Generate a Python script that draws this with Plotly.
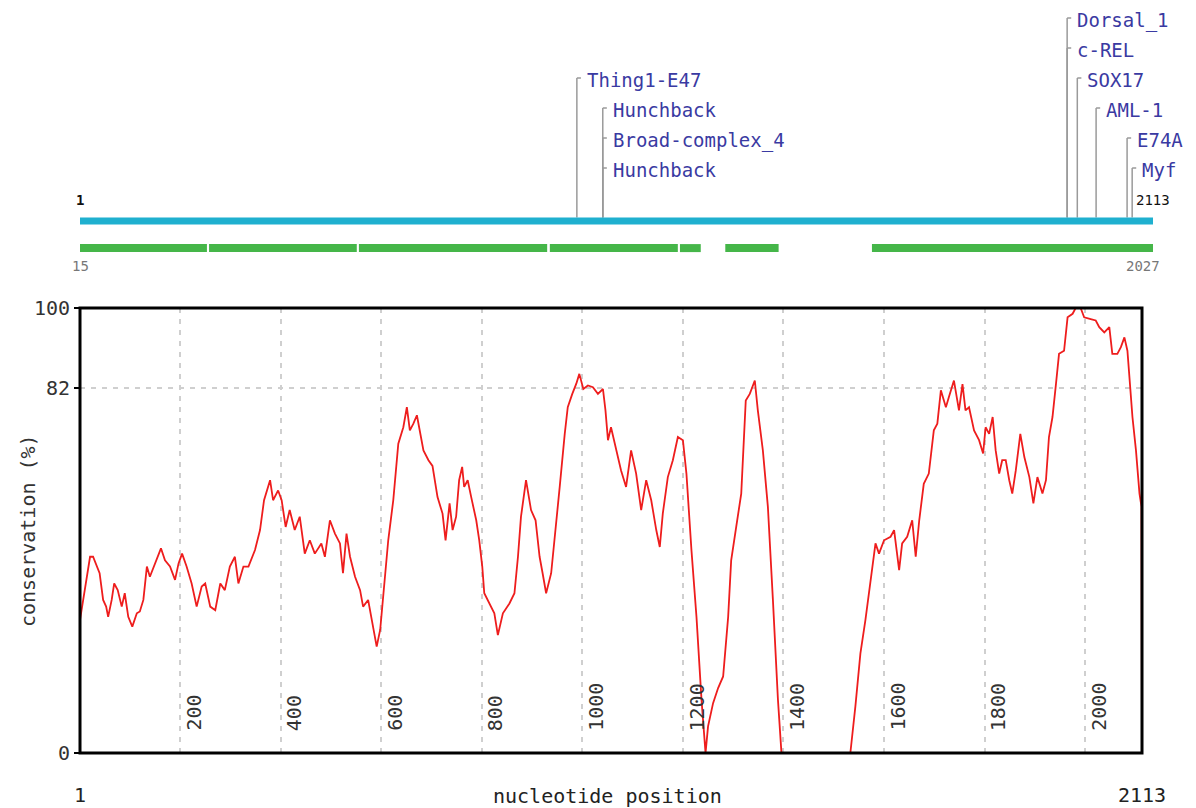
import plotly.graph_objects as go

W, H = 1196, 808
OFF = 8  # page body margin of the html page

# ---------------- data ----------------
seq_start, seq_end = 1, 2113
aln_start, aln_end = 15, 2027

# conserved alignment blocks (green bar), in alignment coordinates
green_starts = [15, 257, 538, 896, 1140, 1225, 1500]
green_ends = [253, 534, 891, 1136, 1179, 1325, 2027]

# transcription factor binding sites
motif_names = ["Thing1-E47", "Hunchback", "Broad-complex_4", "Hunchback",
               "Dorsal_1", "c-REL", "SOX17", "AML-1", "E74A", "Myf"]
motif_pos = [979, 1030, 1030, 1030, 1944, 1944, 1964, 2001, 2062, 2072]
motif_row = [4, 3, 2, 1, 6, 5, 4, 3, 2, 1]

# conservation profile
pos = [1, 11, 21, 27, 34, 40, 47, 53, 57, 64, 69, 76, 84, 90, 97, 105, 114, 120, 127, 134,
       140, 150, 162, 170, 180, 190, 197, 204, 213, 223, 233, 243, 250, 260, 270, 280, 289,
       299, 309, 316, 326, 336, 349, 359, 367, 379, 385, 395, 402, 410, 418, 428, 438, 448,
       458, 468, 481, 488, 498, 508, 518, 524, 531, 538, 548, 558, 564, 574, 584, 591, 598,
       607, 614, 624, 634, 644, 651, 657, 664, 671, 677, 684, 694, 702, 712, 722, 728, 736,
       742, 749, 755, 761, 765, 772, 779, 789, 795, 801, 805, 815, 825, 832, 842, 855, 865,
       872, 878, 888, 898, 907, 915, 921, 928, 938, 945, 955, 965, 971, 980, 988, 994, 1002,
       1011, 1021, 1031, 1041, 1046, 1051, 1057, 1067, 1077, 1087, 1097, 1107, 1117, 1127,
       1137, 1147, 1154, 1160, 1170, 1180, 1190, 1200, 1207, 1217, 1227, 1237, 1245, 1250,
       1260, 1270, 1280, 1290, 1296, 1306, 1316, 1325, 1333, 1343, 1349, 1359, 1369, 1379,
       1389, 1396, 1533, 1543, 1553, 1563, 1572, 1579, 1583, 1590, 1600, 1613, 1620, 1630,
       1636, 1646, 1656, 1663, 1670, 1679, 1689, 1699, 1706, 1713, 1723, 1729, 1739, 1749,
       1756, 1762, 1769, 1779, 1789, 1797, 1802, 1809, 1816, 1822, 1829, 1835, 1842, 1849,
       1855, 1862, 1871, 1879, 1889, 1897, 1905, 1915, 1922, 1928, 1935, 1942, 1948, 1958,
       1965, 1975, 1981, 1991, 1998, 2011, 2021, 2028, 2038, 2048, 2054, 2064, 2071, 2078,
       2084, 2094, 2101, 2108, 2112, 2113]
cons = [29.9, 36.6, 44.1, 44.1, 42.2, 40.4, 34.4, 32.9, 30.6, 34.4, 38.1, 36.6, 32.9, 35.9,
        30.6, 28.4, 31.4, 31.8, 34.4, 41.9, 39.6, 42.6, 46.0, 43.3, 41.9, 38.9, 42.6, 44.8,
        41.9, 38.1, 32.9, 37.4, 38.1, 32.9, 32.1, 38.1, 36.6, 41.9, 44.1, 38.1, 41.9, 41.9,
        45.6, 50.1, 56.8, 61.3, 56.8, 59.0, 56.8, 50.8, 54.6, 50.1, 53.1, 44.8, 47.8, 44.8,
        47.1, 44.1, 52.3, 49.3, 47.1, 40.4, 49.3, 44.1, 39.6, 36.6, 32.9, 34.4, 28.4, 23.9,
        27.7, 38.1, 47.8, 56.8, 69.5, 73.2, 77.7, 72.5, 74.0, 75.9, 72.5, 68.0, 65.8, 64.5,
        57.5, 53.8, 47.8, 56.1, 50.1, 53.1, 61.3, 64.3, 59.8, 61.3, 57.5, 52.3, 47.8, 41.9,
        35.9, 33.6, 31.4, 26.5, 31.4, 33.6, 35.9, 44.1, 53.1, 61.3, 54.6, 52.3, 44.1, 40.4,
        35.9, 40.4, 47.8, 59.8, 71.7, 77.7, 80.7, 83.0, 85.2, 81.8, 82.6, 82.2, 80.7, 81.8,
        77.0, 70.3, 73.2, 68.0, 63.5, 59.8, 68.0, 62.8, 54.6, 61.3, 56.8, 50.1, 46.3, 53.8,
        62.0, 65.8, 71.0, 70.3, 62.8, 45.6, 30.6, 12.0, 0.0, 6.0, 11.2, 14.6, 17.2, 30.6,
        43.3, 50.8, 58.3, 79.2, 80.7, 83.7, 77.0, 68.0, 55.3, 34.4, 12.0, 0.0, 0.0, 10.5,
        22.4, 29.9, 38.1, 44.8, 47.1, 44.8, 47.8, 48.6, 50.1, 41.1, 47.1, 48.6, 52.3, 44.1,
        52.3, 60.5, 62.8, 72.5, 74.0, 81.5, 77.7, 80.0, 83.7, 77.0, 82.9, 77.0, 77.7, 72.5,
        70.3, 67.3, 73.2, 71.7, 75.5, 68.0, 62.8, 65.8, 65.8, 61.3, 58.3, 63.5, 71.7, 66.5,
        62.0, 56.1, 62.0, 58.3, 61.3, 71.0, 75.5, 83.0, 89.7, 90.4, 97.9, 98.7, 100.0, 100.0,
        97.9, 97.5, 97.2, 95.7, 94.5, 95.7, 89.7, 89.7, 91.2, 93.4, 90.4, 75.5, 68.0, 58.3,
        55.3, 0.0]

x_ticks = [200, 400, 600, 800, 1000, 1200, 1400, 1600, 1800, 2000]
y_ticks = [0, 82, 100]
y_tick_text = ["0", "82", "100"]

# ---------------- style ----------------
FONT = "DejaVu Sans Mono"
MOTIF_COLOR = "#3a3aa2"
BLUE = "#1fb0cf"
GREEN = "#45b649"
RED = "#ee1d1d"


def px_x(p):
    return (p - OFF) / W


def px_y(p):
    return 1 - (p - OFF) / H


# top panel: label rows are 30 px apart, row 1 sits at page y = 168
row_px = 30.0
row0_py = 198.0
top_px = 280.0
row_lo = (row0_py - top_px) / row_px
row_hi = (row0_py - OFF) / row_px

bar_row = -0.77
green_row = -1.67
label_row_top = -0.07
label_row_bot = -2.27

fig = go.Figure()

# conservation curve
fig.add_trace(go.Scatter(x=pos, y=cons, mode="lines",
                         line=dict(color=RED, width=1.8),
                         xaxis="x", yaxis="y", hoverinfo="skip", showlegend=False))

# sequence bar (blue)
fig.add_trace(go.Bar(orientation="h", base=[seq_start], x=[seq_end - seq_start],
                     y=[bar_row], width=7 / row_px, marker=dict(color=BLUE, line=dict(width=0)),
                     xaxis="x2", yaxis="y2", showlegend=False, hoverinfo="skip"))

# alignment blocks (green)
fig.add_trace(go.Bar(orientation="h", base=green_starts,
                     x=[e - s for s, e in zip(green_starts, green_ends)],
                     y=[green_row] * len(green_starts), width=8 / row_px,
                     marker=dict(color=GREEN, line=dict(width=0)),
                     xaxis="x3", yaxis="y2", showlegend=False, hoverinfo="skip"))

shapes = []
annotations = []

# motif leader lines and labels
for name, p, r in zip(motif_names, motif_pos, motif_row):
    shapes.append(dict(type="line", xref="x2", yref="y2", x0=p, x1=p,
                       y0=r, y1=bar_row + 3.5 / row_px, layer="below",
                       line=dict(color="#9a9a9a", width=1.5)))
    shapes.append(dict(type="line", xref="x2", yref="y2", x0=p, x1=p + 8,
                       y0=r, y1=r, line=dict(color="#9a9a9a", width=1.5)))
    annotations.append(dict(xref="x2", yref="y2", x=p, y=r, text=name,
                            xanchor="left", yanchor="middle", xshift=8, yshift=-2,
                            showarrow=False,
                            font=dict(family=FONT, size=19, color=MOTIF_COLOR)))

# frame around the conservation plot (drawn above the curve)
shapes.append(dict(type="rect", xref="x domain", yref="y domain", x0=0, x1=1, y0=0, y1=1,
                   layer="above", line=dict(color="black", width=3)))

# bar end labels
annotations.append(dict(xref="x2", yref="y2", x=seq_start, y=label_row_top, text="<b>1</b>",
                        xanchor="center", yanchor="middle", showarrow=False,
                        font=dict(family=FONT, size=14, color="#111")))
annotations.append(dict(xref="x2", yref="y2", x=seq_end, y=label_row_top, text=str(seq_end),
                        xanchor="center", yanchor="middle", showarrow=False,
                        font=dict(family=FONT, size=14, color="#111")))
annotations.append(dict(xref="x3", yref="y2", x=aln_start, y=label_row_bot, text=str(aln_start),
                        xanchor="center", yanchor="middle", showarrow=False,
                        font=dict(family=FONT, size=14, color="#777")))
annotations.append(dict(xref="x3", yref="y2", x=aln_end, y=label_row_bot, text=str(aln_end),
                        xanchor="center", yanchor="middle", xshift=-10, showarrow=False,
                        font=dict(family=FONT, size=14, color="#777")))

# rotated tick labels inside the plot
for t in x_ticks:
    annotations.append(dict(xref="x", yref="y", x=t + 27, y=4.5, text=str(t),
                            textangle=-90, xanchor="center", yanchor="bottom",
                            showarrow=False,
                            font=dict(family=FONT, size=20, color="#333")))

# bottom labels
annotations.append(dict(xref="x", yref="paper", x=seq_start, y=px_y(795), text=str(seq_start),
                        xanchor="center", yanchor="middle", showarrow=False,
                        font=dict(family=FONT, size=20, color="#222")))
annotations.append(dict(xref="x", yref="paper", x=seq_end, y=px_y(795), text=str(seq_end),
                        xanchor="center", yanchor="middle", showarrow=False,
                        font=dict(family=FONT, size=20, color="#222")))
annotations.append(dict(xref="paper", yref="paper", x=px_x(607), y=px_y(796),
                        text="nucleotide position", xanchor="center", yanchor="middle",
                        showarrow=False, font=dict(family=FONT, size=20, color="#222")))
annotations.append(dict(xref="paper", yref="paper", x=px_x(28), y=px_y(531),
                        text="conservation (%)", textangle=-90, xanchor="center",
                        yanchor="middle", showarrow=False,
                        font=dict(family=FONT, size=20, color="#333")))

fig.update_layout(
    width=W, height=H,
    autosize=False,
    margin=dict(l=0, r=0, t=0, b=0, pad=0, autoexpand=False),
    paper_bgcolor="white", plot_bgcolor="white",
    barmode="overlay",
    showlegend=False,
    xaxis=dict(domain=[px_x(80), px_x(1142)], range=[seq_start, seq_end], anchor="y",
               tickvals=x_ticks, showticklabels=False, ticks="", automargin=False,
               showgrid=True, gridcolor="#cfcfcf", gridwidth=1.5, griddash="5px,6px",
               showline=False, zeroline=False, fixedrange=True),
    yaxis=dict(domain=[px_y(753), px_y(308)], range=[0, 100], anchor="x",
               tickvals=y_ticks, ticktext=y_tick_text, ticks="outside", ticklen=5,
               tickwidth=2, tickcolor="black", automargin=False,
               tickfont=dict(family=FONT, size=20, color="#333"),
               showgrid=True, gridcolor="#cfcfcf", gridwidth=1.5, griddash="5px,6px",
               showline=False, zeroline=False, fixedrange=True),
    xaxis2=dict(domain=[px_x(80), px_x(1153)], range=[seq_start, seq_end], anchor="y2",
                visible=False, fixedrange=True, automargin=False),
    xaxis3=dict(domain=[px_x(80), px_x(1153)], range=[aln_start, aln_end], anchor="y2",
                overlaying="x2", visible=False, fixedrange=True, automargin=False),
    yaxis2=dict(domain=[px_y(top_px), 1], range=[row_lo, row_hi], anchor="x2",
                visible=False, fixedrange=True, automargin=False),
    shapes=shapes,
    annotations=annotations,
)

fig.write_html("out.html")
